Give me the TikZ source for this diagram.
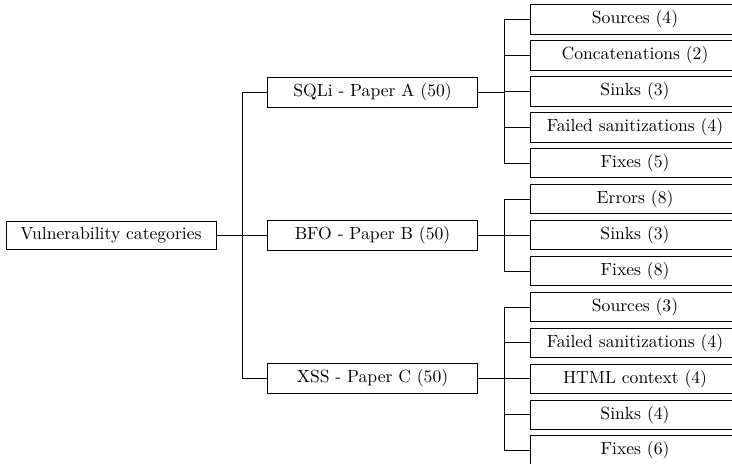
\documentclass[tikz,border=0pt]{standalone}
\begin{document}
\begin{tikzpicture}[x=0.5682pt,y=-0.5682pt,
  box/.style={draw, line width=0.45pt, minimum width=119.3pt, font=\normalsize},
  conn/.style={line width=0.45pt}]
\useasboundingbox (0,0) rectangle (732,464);
\clip (0,0) rectangle (732,464);

% root and the three papers
\node[box] (root) at (111,235.5) {Vulnerability categories};
\node[box] (sqli) at (372.5,92.5) {SQLi - Paper A (50)};
\node[box] (bfo)  at (372.5,235.5) {BFO - Paper B (50)};
\node[box] (xss)  at (372.5,378.5) {XSS - Paper C (50)};

% leaf categories
\node[box] (a1) at (635,19.5)  {Sources (4)};
\node[box] (a2) at (635,55.4)  {Concatenations (2)};
\node[box] (a3) at (635,91.3)  {Sinks (3)};
\node[box] (a4) at (635,127.3) {Failed sanitizations (4)};
\node[box] (a5) at (635,163.2) {Fixes (5)};
\node[box] (b1) at (635,199.1) {Errors (8)};
\node[box] (b2) at (635,235.0) {Sinks (3)};
\node[box] (b3) at (635,270.9) {Fixes (8)};
\node[box] (c1) at (635,306.9) {Sources (3)};
\node[box] (c2) at (635,342.8) {Failed sanitizations (4)};
\node[box] (c3) at (635,378.7) {HTML context (4)};
\node[box] (c4) at (635,414.6) {Sinks (4)};
\node[box] (c5) at (635,450.5) {Fixes (6)};

% forked connectors
\foreach \c in {sqli,bfo,xss}
  \draw[conn] (root.east) -- ++(26,0) |- (\c.west);
\foreach \c in {a1,a2,a3,a4,a5}
  \draw[conn] (sqli.east) -- ++(26.5,0) |- (\c.west);
\foreach \c in {b1,b2,b3}
  \draw[conn] (bfo.east) -- ++(26.5,0) |- (\c.west);
\foreach \c in {c1,c2,c3,c4,c5}
  \draw[conn] (xss.east) -- ++(26.5,0) |- (\c.west);
\end{tikzpicture}
\end{document}
